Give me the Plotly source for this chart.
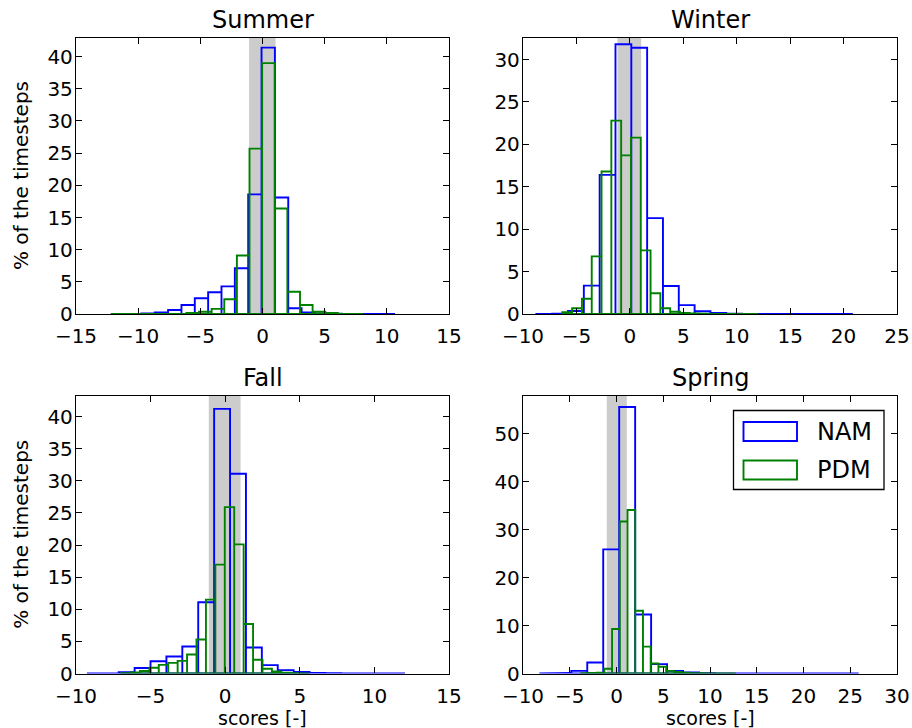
import numpy as np
import plotly.graph_objects as go

# ---------------- data ----------------
SEASONS = ["Summer", "Winter", "Fall", "Spring"]

# histogram bin ranges (first edge, last edge) and percentages per bin
SUMMER_NAM_RANGE = (-9.74, 10.66)
SUMMER_NAM_PCT = [0.1, 0.26, 0.62, 1.4, 2.44, 3.37, 4.3, 7.1, 18.6, 41.4,
                  18.1, 0.9, 0.26, 0.1, 0.05, 0.02, 0.01, 0.01, 0.02]
SUMMER_PDM_RANGE = (-12.21, 8.09)
SUMMER_PDM_PCT = [0.0, 0.0, 0.0, 0.0, 0.02, 0.05, 0.15, 0.36, 0.8, 2.3,
                  9.1, 25.7, 39.0, 16.4, 3.45, 1.4, 0.36, 0.15, 0.02, 0.01]

WINTER_NAM_RANGE = (-8.75, 20.87)
WINTER_NAM_PCT = [0.02, 0.03, 0.35, 3.35, 16.4, 31.8, 31.4, 11.3, 3.3, 1.05,
                  0.32, 0.12, 0.05, 0.02, 0.01, 0.01, 0.01, 0.01, 0.01, 0.01]
WINTER_PDM_RANGE = (-6.32, 12.03)
WINTER_PDM_PCT = [0.2, 0.68, 1.8, 6.8, 16.8, 22.8, 18.7, 20.8, 7.5, 2.45,
                  0.68, 0.27, 0.12, 0.06, 0.03, 0.02, 0.01, 0.01, 0.01, 0.01]

FALL_NAM_RANGE = (-9.27, 12.05)
FALL_NAM_PCT = [0.0, 0.02, 0.2, 0.85, 1.9, 2.65, 4.2, 11.1, 41.2, 31.1,
                4.05, 1.3, 0.52, 0.26, 0.1, 0.03, 0.01, 0.01, 0.0, 0.01]
FALL_PDM_RANGE = (-6.98, 5.66)
FALL_PDM_PCT = [0.05, 0.15, 0.4, 0.9, 1.35, 1.65, 1.97, 2.95, 5.3, 11.5,
                16.95, 25.9, 20.1, 7.7, 2.15, 0.75, 0.32, 0.12, 0.05, 0.02]

SPRING_NAM_RANGE = (-8.25, 25.9)
SPRING_NAM_PCT = [0.02, 0.1, 0.55, 2.3, 25.9, 55.6, 12.3, 1.95, 0.55, 0.2,
                  0.08, 0.03, 0.02, 0.01, 0.01, 0.01, 0.01, 0.01, 0.01, 0.01]
SPRING_PDM_RANGE = (-3.78, 12.75)
SPRING_PDM_PCT = [0.05, 0.1, 0.15, 1.0, 9.3, 31.7, 34.1, 13.1, 5.6, 2.1,
                  1.4, 0.55, 0.3, 0.15, 0.08, 0.04, 0.02, 0.01, 0.01, 0.01]

# shaded band around zero (per season)
BAND_LO = [-1.08, -1.16, -1.10, -1.04]
BAND_HI = [1.05, 1.06, 1.03, 1.10]

# axes ranges and ticks
X_RANGES = [(-15, 15), (-10, 25), (-10, 15), (-10, 30)]
X_TICKS = [list(range(-15, 16, 5)), list(range(-10, 26, 5)),
           list(range(-10, 16, 5)), list(range(-10, 31, 5))]
Y_RANGES = [(0, 42.9), (0, 32.6), (0, 43.2), (0, 57.9)]
Y_TICKS = [list(range(0, 41, 5)), list(range(0, 31, 5)),
           list(range(0, 41, 5)), list(range(0, 51, 10))]

SERIES_NAMES = ["NAM", "PDM"]
SERIES_COLORS = ["#0000ff", "#008000"]

NAM = [(SUMMER_NAM_RANGE, SUMMER_NAM_PCT), (WINTER_NAM_RANGE, WINTER_NAM_PCT),
       (FALL_NAM_RANGE, FALL_NAM_PCT), (SPRING_NAM_RANGE, SPRING_NAM_PCT)]
PDM = [(SUMMER_PDM_RANGE, SUMMER_PDM_PCT), (WINTER_PDM_RANGE, WINTER_PDM_PCT),
       (FALL_PDM_RANGE, FALL_PDM_PCT), (SPRING_PDM_RANGE, SPRING_PDM_PCT)]

# ---------------- layout geometry (pixels) ----------------
W, H = 912, 728
X_DOMS = [(76, 449), (523, 897), (76, 449), (523, 897)]
Y_DOMS = [(38, 314), (37.5, 314), (396, 673.5), (396, 673.5)]
FONT = "DejaVu Sans"
TICK_SIZE = 20
LABEL_SIZE = 20
XLABEL_SIZE = 19
TITLE_SIZE = 24


def fx(p):
    return p / W


def fy(p):
    return 1 - p / H


def fmt(v):
    return ("\u2212" + str(-v)) if v < 0 else str(v)


def outline(rng, pct):
    edges = np.linspace(rng[0], rng[1], len(pct) + 1)
    xs, ys = [edges[0]], [0.0]
    for i, h in enumerate(pct):
        xs += [edges[i], edges[i + 1], edges[i + 1]]
        ys += [h, h, 0.0]
    xs.append(edges[0])
    ys.append(0.0)
    return xs, ys


fig = go.Figure()
shapes = []
annotations = []

for i, season in enumerate(SEASONS):
    sfx = "" if i == 0 else str(i + 1)
    xa, ya = "x" + sfx, "y" + sfx
    for (rng, pct), name, col in zip([NAM[i], PDM[i]], SERIES_NAMES, SERIES_COLORS):
        xs, ys = outline(rng, pct)
        fig.add_trace(go.Scatter(x=xs, y=ys, mode="lines", name=name,
                                 line=dict(color=col, width=1.9),
                                 xaxis=xa, yaxis=ya, showlegend=False,
                                 hoverinfo="skip"))
    shapes.append(dict(type="rect", xref=xa, yref=ya + " domain",
                       x0=BAND_LO[i], x1=BAND_HI[i], y0=0, y1=1,
                       fillcolor="#cccccc", line=dict(width=0), layer="below"))
    axcommon = dict(showline=True, linecolor="black", linewidth=1.3,
                    mirror="allticks", ticks="inside", ticklen=6,
                    tickwidth=1, tickcolor="black", showgrid=False,
                    zeroline=False, automargin=False,
                    tickfont=dict(family=FONT, size=TICK_SIZE, color="black"))
    fig.layout["xaxis" + sfx] = dict(
        domain=[fx(X_DOMS[i][0]), fx(X_DOMS[i][1])], range=list(X_RANGES[i]),
        anchor=ya, tickvals=X_TICKS[i], ticktext=[fmt(v) for v in X_TICKS[i]],
        ticklabelstandoff=4, **axcommon)
    fig.layout["yaxis" + sfx] = dict(
        domain=[fy(Y_DOMS[i][1]), fy(Y_DOMS[i][0])], range=list(Y_RANGES[i]),
        anchor=xa, tickvals=Y_TICKS[i], ticktext=[fmt(v) for v in Y_TICKS[i]],
        ticklabelstandoff=-2, **axcommon)
    # title
    annotations.append(dict(text=season, xref="paper", yref="paper",
                            x=fx((X_DOMS[i][0] + X_DOMS[i][1]) / 2),
                            y=fy(Y_DOMS[i][0] - 2), xanchor="center",
                            yanchor="bottom", showarrow=False,
                            font=dict(family=FONT, size=TITLE_SIZE, color="black")))

# axis labels
for i in (0, 2):
    annotations.append(dict(text="% of the timesteps", xref="paper", yref="paper",
                            x=fx(21), y=fy((Y_DOMS[i][0] + Y_DOMS[i][1]) / 2),
                            xanchor="center", yanchor="middle", textangle=-90,
                            showarrow=False,
                            font=dict(family=FONT, size=LABEL_SIZE, color="black")))
for i in (2, 3):
    annotations.append(dict(text="scores [-]", xref="paper", yref="paper",
                            x=fx((X_DOMS[i][0] + X_DOMS[i][1]) / 2), y=fy(728),
                            xanchor="center", yanchor="bottom", yshift=-3,
                            showarrow=False,
                            font=dict(family=FONT, size=XLABEL_SIZE, color="black")))

# legend (matplotlib-style box with outlined patches)
shapes.append(dict(type="rect", xref="paper", yref="paper",
                   x0=fx(733.5), x1=fx(884), y0=fy(489.5), y1=fy(410.5),
                   line=dict(color="black", width=1.3), fillcolor="white",
                   layer="above"))
for k, (name, col) in enumerate(zip(SERIES_NAMES, SERIES_COLORS)):
    yc = 431.5 + k * 38.5
    shapes.append(dict(type="rect", xref="paper", yref="paper",
                       x0=fx(743.5), x1=fx(797), y0=fy(yc + 9.5), y1=fy(yc - 9.5),
                       line=dict(color=col, width=1.9), fillcolor="rgba(0,0,0,0)",
                       layer="above"))
    annotations.append(dict(text=name, xref="paper", yref="paper",
                            x=fx(815), y=fy(yc), xanchor="left", yanchor="middle",
                            showarrow=False,
                            font=dict(family=FONT, size=TITLE_SIZE, color="black")))

fig.update_layout(template="none", width=W, height=H,
                  margin=dict(l=0, r=0, t=0, b=0, pad=0, autoexpand=False),
                  paper_bgcolor="white", plot_bgcolor="white",
                  font=dict(family=FONT, color="black"),
                  shapes=shapes, annotations=annotations, showlegend=False)

fig.write_html("out.html",
               post_script="document.body.style.margin='0';"
                           "document.body.style.padding='0';"
                           "document.body.style.overflow='hidden';")
